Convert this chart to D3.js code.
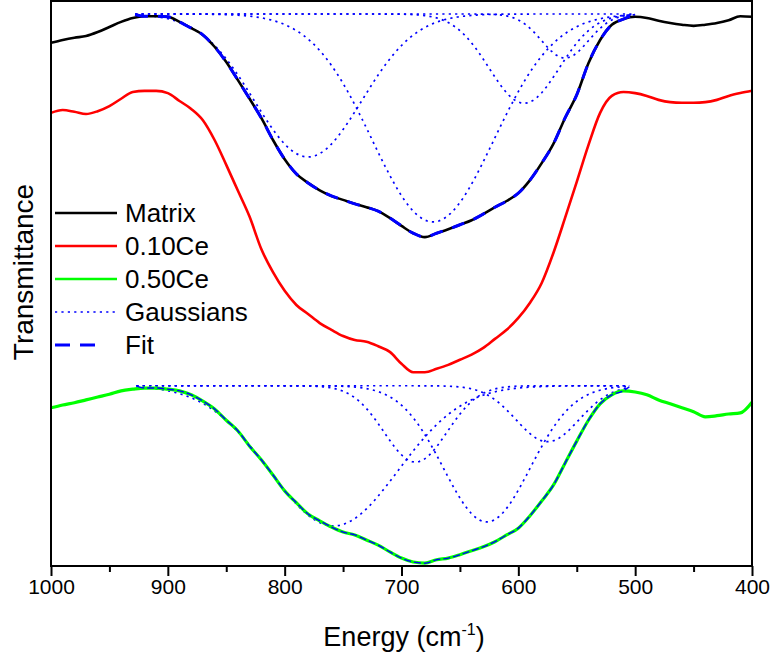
<!DOCTYPE html>
<html><head><meta charset="utf-8">
<script src="https://cdn.jsdelivr.net/npm/d3@7"></script>
<style>html,body{margin:0;padding:0;background:#fff;}svg{display:block;font-family:"Liberation Sans",Arial,sans-serif;}</style>
</head><body>
<svg id="chart" width="773" height="664"></svg>
<script>
// ---- data (energy in cm-1, transmittance in arbitrary units) ----
const energyGrid = [1000,990,980,970,960,950,940,930,920,910,900,890,880,870,860,850,840,830,820,810,800,790,780,770,760,750,740,730,720,710,700,690,680,670,660,650,640,630,620,610,600,590,580,570,560,550,540,530,520,510,500,490,480,470,460,450,440,430,420,410,400];
const matrixT = [92.6,93.1,93.5,93.8,94.5,95.4,96.3,97.0,97.3,97.3,97.2,96.3,95.2,94.0,91.9,89.2,86.0,82.7,79.3,75.4,72.0,69.4,67.8,66.5,65.5,64.8,64.1,63.5,62.8,61.6,60.2,58.9,58.2,58.9,59.6,60.4,61.2,62.3,63.5,64.6,66.0,68.3,71.3,74.7,79.3,83.4,89.0,93.1,95.8,96.8,97.2,97.0,96.5,96.1,95.8,95.6,95.8,96.1,96.6,97.3,97.2];
const ce010T = [80.2,80.7,80.4,80.0,80.5,81.4,82.7,83.9,84.1,84.1,83.7,82.3,80.9,78.9,75.4,71.0,66.4,61.8,56.1,52.0,48.7,46.2,44.6,43.0,41.8,40.7,40.0,39.7,38.9,37.9,35.8,34.3,34.3,34.9,35.6,36.5,37.4,38.6,40.2,41.8,43.9,46.6,50.1,55.4,61.6,68.0,74.5,80.2,83.2,83.9,83.7,83.2,82.5,82.1,82.0,82.0,82.1,82.5,83.2,83.7,84.1];
const ce050T = [28.0,28.5,28.9,29.4,29.9,30.4,31.0,31.3,31.5,31.5,31.3,31.0,30.3,29.2,27.8,25.8,23.9,21.2,18.8,16.1,13.3,11.2,9.2,8.0,6.9,6.0,5.5,4.6,3.7,2.5,1.4,0.7,0.5,1.1,1.4,2.0,2.7,3.4,4.3,5.5,6.7,8.9,11.5,14.3,18.2,22.1,25.8,28.7,30.3,31.0,30.8,30.3,29.4,28.7,28.0,27.3,26.4,26.6,26.9,27.1,29.0];

// fitted envelopes (blue dashed)
const matrixFitE = [928,920,910,900,890,880,870,860,850,840,830,820,810,800,790,780,770,760,750,740,730,720,710,700,690,680,670,660,650,640,630,620,610,600,590,580,570,560,550,540,530,520,510,500];
const matrixFitT = [97.6,97.3,97.3,97.2,96.3,95.2,94.0,91.9,89.2,86.0,82.7,79.3,75.4,72.0,69.4,67.8,66.5,65.5,64.8,64.1,63.5,62.8,61.6,60.2,58.9,58.2,58.9,59.6,60.4,61.2,62.3,63.5,64.6,66.0,68.3,71.3,74.7,79.3,83.4,89.0,93.1,95.8,96.8,97.6];
const ce050FitE = [926,920,910,900,890,880,870,860,850,840,830,820,810,800,790,780,770,760,750,740,730,720,710,700,690,680,670,660,650,640,630,620,610,600,590,580,570,560,550,540,530,520,510,505];
const ce050FitT = [31.8,31.5,31.5,31.3,31.0,30.3,29.2,27.8,25.8,23.9,21.2,18.8,16.1,13.3,11.2,9.2,8.0,6.9,6.0,5.5,4.6,3.7,2.5,1.4,0.7,0.5,1.1,1.4,2.0,2.7,3.4,4.3,5.5,6.7,8.9,11.5,14.3,18.2,22.1,25.8,28.7,30.3,31.0,31.7];

// Gaussian components: centre (cm-1), depth, sigma (cm-1)
const matrixBase = 97.7, matrixRange = [928, 500];
const matrixCentres = [780, 673, 595, 560];
const matrixDepths  = [25.3, 36.8, 15.8, 7.8];
const matrixSigmas  = [46, 52, 30, 20];
const ce050Base = 31.9, ce050Range = [927, 505];
const ce050Centres = [758, 688, 627, 575];
const ce050Depths  = [24.8, 13.5, 24.1, 9.9];
const ce050Sigmas  = [55, 27, 37, 27];

const xTicks = [1000,900,800,700,600,500,400];
const xMinorTicks = [950,850,750,650,550,450];
const legendLabels = ["Matrix","0.10Ce","0.50Ce","Gaussians","Fit"];

// ---- drawing ----
const svg = d3.select("#chart");
const L = 51, R = 752, T = 1, B = 566;
const x = d3.scaleLinear().domain([1000,400]).range([L,R]);
const y = d3.scaleLinear().domain([0,100]).range([B,T]);

const line = d3.line().x(d=>x(d[0])).y(d=>y(d[1])).curve(d3.curveMonotoneX);
const zip = (E,V)=>E.map((e,i)=>[e,V[i]]);

function gaussian(base, range, c, a, s){
  const pts=[];
  for(let e=range[0]; e>=range[1]; e-=2){ pts.push([e, base - a*Math.exp(-((e-c)*(e-c))/(2*s*s))]); }
  if(pts[pts.length-1][0]!==range[1]) pts.push([range[1], base - a*Math.exp(-((range[1]-c)**2)/(2*s*s))]);
  return pts;
}

const g = svg.append("g");
const dotStyle = sel => sel.attr("fill","none").attr("stroke","#0000ff").attr("stroke-width",1.7).attr("stroke-dasharray","2.2,4.2");

// gaussians
matrixCentres.forEach((c,i)=>{
  g.append("path").datum(gaussian(matrixBase, matrixRange, c, matrixDepths[i], matrixSigmas[i])).attr("d", d3.line().x(d=>x(d[0])).y(d=>y(d[1]))).call(dotStyle);
});
ce050Centres.forEach((c,i)=>{
  g.append("path").datum(gaussian(ce050Base, ce050Range, c, ce050Depths[i], ce050Sigmas[i])).attr("d", d3.line().x(d=>x(d[0])).y(d=>y(d[1]))).call(dotStyle);
});

// spectra
g.append("path").datum(zip(energyGrid, ce010T)).attr("d", line).attr("fill","none").attr("stroke","#ff0000").attr("stroke-width",2.6);
g.append("path").datum(zip(energyGrid, matrixT)).attr("d", line).attr("fill","none").attr("stroke","#000000").attr("stroke-width",2.6);
g.append("path").datum(zip(matrixFitE, matrixFitT)).attr("d", line).attr("fill","none").attr("stroke","#0000ff").attr("stroke-width",3).attr("stroke-dasharray","13,10");
g.append("path").datum(zip(energyGrid, ce050T)).attr("d", line).attr("fill","none").attr("stroke","#00ff00").attr("stroke-width",3.2);
g.append("path").datum(zip(ce050FitE, ce050FitT)).attr("d", line).attr("fill","none").attr("stroke","#0000ff").attr("stroke-width",1.4).attr("stroke-dasharray","7,3");

// frame
svg.append("rect").attr("x",L).attr("y",T).attr("width",R-L).attr("height",B-T).attr("fill","none").attr("stroke","#000").attr("stroke-width",2);

// x axis
const ax = svg.append("g").attr("transform",`translate(0,${B})`)
  .call(d3.axisBottom(x).tickValues(xTicks).tickSize(10).tickPadding(3).tickFormat(d3.format("d")));
ax.select(".domain").remove();
ax.selectAll(".tick line").attr("stroke","#000").attr("stroke-width",2);
ax.selectAll(".tick text").attr("font-size",21).attr("font-family","'Liberation Sans',Arial,sans-serif").attr("fill","#000");
const axm = svg.append("g").attr("transform",`translate(0,${B})`)
  .call(d3.axisBottom(x).tickValues(xMinorTicks).tickSize(6).tickFormat(""));
axm.select(".domain").remove();
axm.selectAll(".tick line").attr("stroke","#000").attr("stroke-width",2);

// axis titles
const xt = svg.append("text").attr("x",404).attr("y",646).attr("text-anchor","middle").attr("font-size",27).attr("fill","#000");
xt.append("tspan").text("Energy (cm");
xt.append("tspan").attr("font-size",16).attr("dy",-11).text("-1");
xt.append("tspan").attr("dy",11).text(")");
svg.append("text").attr("transform","translate(33,272) rotate(-90)").attr("text-anchor","middle").attr("font-size",28).attr("fill","#000").text("Transmittance");

// legend
const legY = [213,246,279,312,345];
const leg = svg.append("g");
legendLabels.forEach((lab,i)=>{
  const yy = legY[i];
  const ln = leg.append("line").attr("x1",55).attr("y1",yy).attr("y2",yy).attr("x2",117);
  if(i===0) ln.attr("stroke","#000").attr("stroke-width",2.6);
  if(i===1) ln.attr("stroke","#ff0000").attr("stroke-width",2.6);
  if(i===2) ln.attr("stroke","#00ff00").attr("stroke-width",2.6);
  if(i===3) ln.attr("stroke","#0000ff").attr("stroke-width",1.6).attr("stroke-dasharray","2.2,4.2");
  if(i===4) ln.attr("x2",95).attr("stroke","#0000ff").attr("stroke-width",2.8).attr("stroke-dasharray","15,10");
  leg.append("text").attr("x",125).attr("y",yy+9).attr("font-size",26).attr("fill","#000").text(lab);
});
</script>
</body></html>
